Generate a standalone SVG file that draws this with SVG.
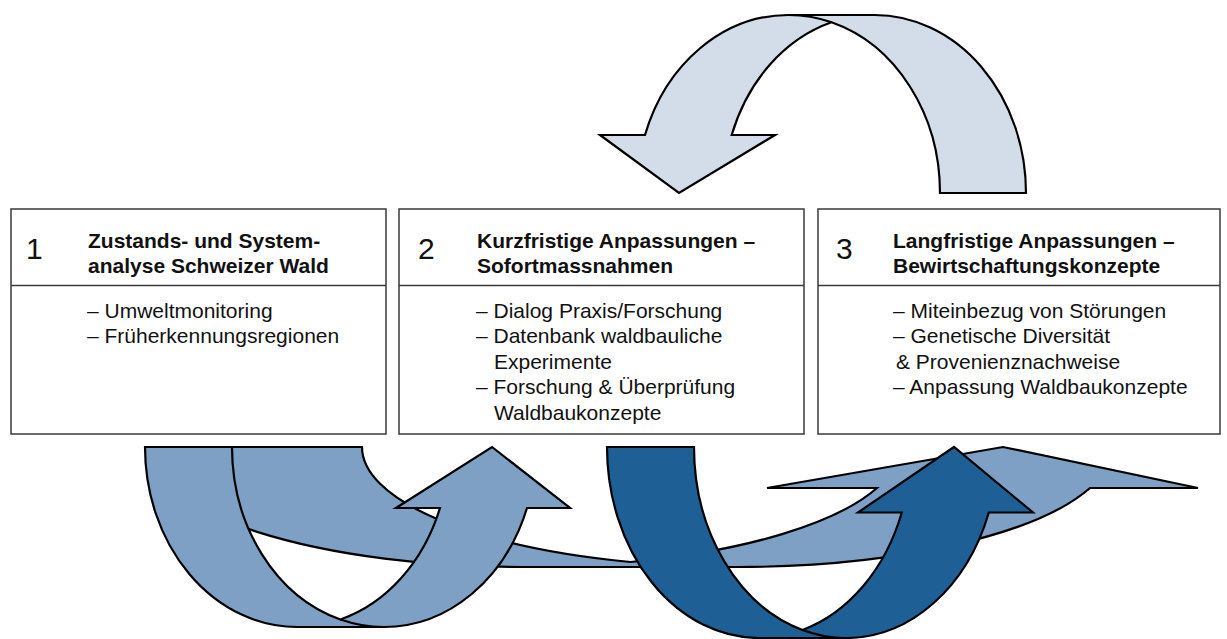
<svg xmlns="http://www.w3.org/2000/svg" width="1227" height="639" viewBox="0 0 1227 639">
<style>
.box{fill:#fff;stroke:#3a3a3a;stroke-width:1.5}
.div{stroke:#3a3a3a;stroke-width:1.5}
text{font-family:"Liberation Sans",Arial,sans-serif;fill:#111}
.num{font-size:30px}
.ttl{font-size:21px;font-weight:bold}
.bd{font-size:21px}
.arr{stroke:#000;stroke-width:2.2;stroke-linejoin:miter;stroke-miterlimit:6}
.ln{fill:none;stroke:#000;stroke-width:2.2}
.light{fill:#D3DDEA}
.mid{fill:#7FA0C5}
.dark{fill:#1E6096}
</style>
<rect width="1227" height="639" fill="#fff"/>
<g id="connectors">
  <g id="arrow-top">
    <path class="arr light" d="M940,193 L1026,193 A151.6,178 0 0,0 874.5,15 L788.5,15 A151.6,178 0 0,0 645,135 L600,135 L679,193 L775,135 L731.7,135 A151.6,178 0 0,1 831.5,22.3 A151.6,178 0 0,1 940,193 Z"/>
    <path class="ln" d="M788.5,15 A151.6,178 0 0,1 831.5,22.3"/>
  </g>
  <g id="arrow-long">
    <path class="arr mid" d="M147,447 A376,120 0 0,0 523,567 L738,567 A376,120 0 0,0 1090,488 L1198,488 L1003,447 L767,488 L877,488 A376,120 0 0,1 630.5,562 A376,120 0 0,1 362,447 Z"/>
  </g>
  <g id="arrow-left">
    <path class="arr mid" d="M145,447 A152,180 0 0,0 297,627 L384,627 A152,180 0 0,0 527,508 L570,508 L492,447 L396,508 L440,508 A152,180 0 0,1 340.5,619.5 A152,180 0 0,1 232,447 Z"/>
    <path class="ln" d="M340.5,619.5 A152,180 0 0,0 384,627"/>
  </g>
  <g id="arrow-dark">
    <path class="arr dark" d="M607,447 A152,191 0 0,0 759,638 L846,638 A152,191 0 0,0 988.8,512.5 L1033,512.5 L954,447 L858,512.5 L901.8,512.5 A152,191 0 0,1 802.5,630 A152,191 0 0,1 694,447 Z"/>
    <path class="ln" d="M802.5,630 A152,191 0 0,0 846,638"/>
  </g>
</g>
<g id="node1">
  <rect class="box" x="11" y="209" width="375" height="225"/>
  <line class="div" x1="11" y1="285.5" x2="386" y2="285.5"/>
  <text class="num" x="26" y="259">1</text>
  <text class="ttl" x="88" y="247.5">Zustands- und System-</text>
  <text class="ttl" x="88" y="273">analyse Schweizer Wald</text>
  <text class="bd" x="87" y="317.5">– Umweltmonitoring</text>
  <text class="bd" x="87" y="343">– Früherkennungsregionen</text>
</g>
<g id="node2">
  <rect class="box" x="399" y="209" width="405" height="225"/>
  <line class="div" x1="399" y1="285.5" x2="804" y2="285.5"/>
  <text class="num" x="418" y="259">2</text>
  <text class="ttl" x="477" y="247.5">Kurzfristige Anpassungen –</text>
  <text class="ttl" x="477" y="273">Sofortmassnahmen</text>
  <text class="bd" x="476" y="317.5">– Dialog Praxis/Forschung</text>
  <text class="bd" x="476" y="343">– Datenbank waldbauliche</text>
  <text class="bd" x="494" y="368.5">Experimente</text>
  <text class="bd" x="476" y="394">– Forschung &amp; Überprüfung</text>
  <text class="bd" x="494" y="419.5">Waldbaukonzepte</text>
</g>
<g id="node3">
  <rect class="box" x="818" y="209" width="402" height="225"/>
  <line class="div" x1="818" y1="285.5" x2="1220" y2="285.5"/>
  <text class="num" x="836" y="259">3</text>
  <text class="ttl" x="893" y="247.5">Langfristige Anpassungen –</text>
  <text class="ttl" x="893" y="273">Bewirtschaftungskonzepte</text>
  <text class="bd" x="893" y="317.5">– Miteinbezug von Störungen</text>
  <text class="bd" x="893" y="343">– Genetische Diversität</text>
  <text class="bd" x="896" y="368.5">&amp; Provenienznachweise</text>
  <text class="bd" x="893" y="394">– Anpassung Waldbaukonzepte</text>
</g>
</svg>
